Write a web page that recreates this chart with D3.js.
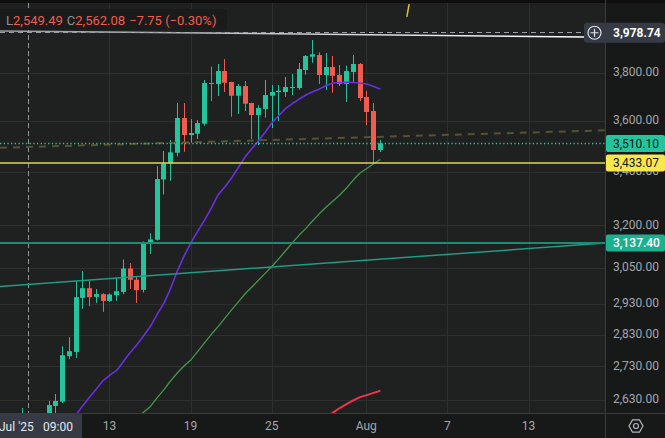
<!DOCTYPE html>
<html>
<head>
<meta charset="utf-8">
<script src="https://cdn.jsdelivr.net/npm/d3@7"></script>
<style>
html, body { margin: 0; padding: 0; background: #1f2020; overflow: hidden; }
svg { display: block; font-family: Roboto, "Noto Sans", sans-serif; }
</style>
</head>
<body>
<div id="chart"></div>
<script>
// 12h candles, first bar 2025-07-06 21:00
const firstBar = '2025-07-06T21:00:00Z';
const opens = [2560, 2569.83, 2562, 2576, 2583, 2611, 2623.6, 2761.6, 2775, 2949.3, 2981.7, 2952.6, 2961.6, 2939.3, 2958.3, 2969, 3048.6, 3010.4, 2976, 3134.7, 3148.8, 3370.2, 3431.5, 3473.5, 3612.1, 3543.6, 3548.8, 3588.9, 3757.4, 3753.2, 3808.6, 3761.7, 3704, 3744.7, 3673.7, 3624.3, 3648.9, 3704, 3719.5, 3719.5, 3736.3, 3736.3, 3812.9, 3870.5, 3877.9, 3791.4, 3825.8, 3791.4, 3753.2, 3804.3, 3838.8, 3698.5, 3640.7, 3484.1];
const highs = [2605, 2588, 2584, 2589, 2626, 2646.5, 2792.9, 2821.3, 3005.3, 3039.9, 3008.2, 2978.8, 2964.9, 2964, 3017.8, 3079.7, 3066.9, 3021.2, 3142.9, 3172.5, 3421.9, 3480.2, 3523.6, 3673.7, 3673.7, 3608, 3603.9, 3770.1, 3827.1, 3838.8, 3860.4, 3763, 3753.2, 3765.9, 3675, 3664.2, 3770.1, 3748.9, 3748.9, 3782.9, 3795.7, 3843.1, 3877.9, 3944, 3889.7, 3886.7, 3873.5, 3834.4, 3832, 3877.9, 3843.1, 3723.7, 3673.7, 3523.6];
const lows = [2548, 2549.49, 2540, 2556, 2578, 2586, 2620, 2752.3, 2756.3, 2913, 2921.9, 2932.7, 2903.1, 2936, 2939.3, 2961.6, 2979.3, 2932.7, 2967.3, 3099.2, 3146, 3313.7, 3365.7, 3459, 3477.4, 3512.9, 3527.6, 3580.9, 3681.9, 3702.7, 3719.5, 3617.3, 3628.4, 3640.7, 3527.6, 3503.8, 3613.3, 3571.6, 3599.9, 3699.8, 3706.9, 3729.1, 3792.7, 3844.4, 3753.2, 3727.9, 3716.5, 3744.7, 3678, 3758.7, 3681.9, 3583.7, 3433.07, 3476.3];
const closes = [2569.83, 2562.08, 2576, 2583, 2613.5, 2625.7, 2764.7, 2777.2, 2951.6, 2981.7, 2951.6, 2961.6, 2939.3, 2960.6, 2971.6, 3048.6, 3010.2, 2974.9, 3137.4, 3150.3, 3372.1, 3432.3, 3475.1, 3612.1, 3543.6, 3551.6, 3591.8, 3757.4, 3753.2, 3808.6, 3758.7, 3704, 3744.7, 3670.8, 3624.3, 3653, 3706.9, 3719.5, 3725, 3740.5, 3740.5, 3817.2, 3873.5, 3881, 3791.4, 3825.8, 3788.4, 3753.2, 3808.6, 3838.8, 3694.4, 3636.6, 3484.1, 3510.1];

// moving averages, each starts at a bar index
const purpleMAStart = 7;
const purpleMA = [2558, 2585.7, 2612.0, 2637.2, 2661.7, 2686.8, 2703.5, 2717.8, 2744.9, 2772.9, 2797.4, 2826.3, 2856.3, 2895.9, 2932.1, 2982.1, 3041.5, 3093.4, 3139.1, 3180.0, 3219.6, 3263.5, 3312.4, 3341.7, 3375.8, 3416.0, 3456.7, 3489.9, 3521.5, 3555.4, 3593.7, 3622.2, 3651.7, 3671.6, 3690.2, 3706.9, 3720.3, 3732.1, 3746.8, 3757.4, 3759.5, 3760.4, 3759.5, 3757.4, 3753.2, 3742.6, 3732.1];
const greenMAStart = 17;
const greenMA = [2575.5, 2593.0, 2609.7, 2635.7, 2659.6, 2686.8, 2710.5, 2732.0, 2750.8, 2776.7, 2803.4, 2830.7, 2855.4, 2882.6, 2909.7, 2936.0, 2963.0, 2985.5, 3009.1, 3032.9, 3057.0, 3082.9, 3110.1, 3138.7, 3165.7, 3189.7, 3217.1, 3243.3, 3267.2, 3289.4, 3311.7, 3338.0, 3368.2, 3394.8, 3412.1, 3430.6, 3446.9];
const redMAStart = 45;
const redMA = [2578.5, 2591.6, 2605.0, 2616.5, 2627.4, 2637.2, 2643.2, 2649.8, 2656.0];

// drawings: two anchors [time, price]
const trendOlive = [['2025-07-06T21:00:00Z', 3495.4], ['2025-08-13T09:00:00Z', 3553.5]];
const trendTeal = [['2025-07-06T21:00:00Z', 2992.9], ['2025-08-13T09:00:00Z', 3117.8]];
const trendWhite = [['2025-07-06T21:00:00Z', 3983.4], ['2025-08-13T09:00:00Z', 3960.1]];
const trendYellow = [['2025-08-04T09:00:00Z', 4048], ['2025-08-04T13:00:00Z', 4107]];

const lastPrice = 3510.10;
const lowLevel = 3433.07;
const supportLevel = 3137.40;
const crossPrice = 3978.74;
const crossTime = '2025-07-07T09:00:00Z';

const yTicks = [2630, 2730, 2830, 2930, 3050, 3200, 3400, 3600, 3800];
const xTickDates = ['2025-07-13T09:00:00Z', '2025-07-19T09:00:00Z', '2025-07-25T09:00:00Z', '2025-08-01T09:00:00Z', '2025-08-07T09:00:00Z', '2025-08-13T09:00:00Z'];
const xTickLabels = ['13', '19', '25', 'Aug', '7', '13'];

const W = 665, H = 438;
const plot = {left: 0, right: 605, top: 3, bottom: 413};
const upColor = '#26c49c', downColor = '#f25c4e';
const fmt = d3.format(',.2f');

const svg = d3.select('#chart').append('svg')
    .attr('width', W)
    .attr('height', H);

const x = d3.scaleUtc()
    .domain([new Date('2025-07-13T09:00:00Z'), new Date('2025-08-01T09:00:00Z')])
    .range([109.4, 366.3]);
const y = d3.scaleLog()
    .domain([2590.4, 4112.1])
    .range([plot.bottom, plot.top]);

const t0 = new Date(firstBar);
const bars = opens.map((o, i) => ({
    t: d3.utcHour.offset(t0, 12 * i), o: o, h: highs[i], l: lows[i], c: closes[i]
}));

// backgrounds
svg.append('rect').attr('width', W).attr('height', H).attr('fill', '#171818');
svg.append('rect').attr('x', plot.left).attr('y', plot.top)
    .attr('width', plot.right - plot.left).attr('height', plot.bottom - plot.top)
    .attr('fill', '#1f2020');
svg.append('rect').attr('width', W).attr('height', plot.top).attr('fill', '#0e0e0e');

svg.append('defs').append('clipPath').attr('id', 'plotclip')
    .append('rect').attr('x', plot.left).attr('y', plot.top)
    .attr('width', plot.right - plot.left).attr('height', plot.bottom - plot.top);

const grad = svg.select('defs').append('linearGradient').attr('id', 'whitegrad')
    .attr('x1', '0%').attr('x2', '100%');
grad.append('stop').attr('offset', '0%').attr('stop-color', '#9a9a9a');
grad.append('stop').attr('offset', '100%').attr('stop-color', '#ffffff');

const g = svg.append('g').attr('clip-path', 'url(#plotclip)');

// grid
g.selectAll('line.hgrid').data(yTicks).enter().append('line')
    .attr('x1', plot.left).attr('x2', plot.right)
    .attr('y1', d => Math.round(y(d)) + 0.5).attr('y2', d => Math.round(y(d)) + 0.5)
    .attr('stroke', '#2d2e2e');
g.selectAll('line.vgrid').data(xTickDates).enter().append('line')
    .attr('x1', d => Math.round(x(new Date(d))) + 0.5).attr('x2', d => Math.round(x(new Date(d))) + 0.5)
    .attr('y1', plot.top).attr('y2', plot.bottom)
    .attr('stroke', '#2d2e2e');

// crosshair vertical
const cx = Math.round(x(new Date(crossTime))) + 0.5;
g.append('line').attr('x1', cx).attr('x2', cx).attr('y1', plot.top).attr('y2', plot.bottom)
    .attr('stroke', '#8f9297').attr('stroke-dasharray', '5,3');

// candles
const candle = g.selectAll('g.candle').data(bars).enter().append('g').attr('class', 'candle');
candle.append('rect')
    .attr('x', d => Math.round(x(d.t)))
    .attr('width', 1)
    .attr('y', d => y(d.h))
    .attr('height', d => Math.max(1, y(d.l) - y(d.h)))
    .attr('fill', d => d.c >= d.o ? upColor : downColor);
candle.append('rect')
    .attr('x', d => Math.round(x(d.t)) - 2)
    .attr('width', 5)
    .attr('y', d => y(Math.max(d.o, d.c)))
    .attr('height', d => Math.max(1, Math.abs(y(d.o) - y(d.c))))
    .attr('fill', d => d.c >= d.o ? upColor : downColor);

// moving averages
function maLine(values, start, color, width) {
    const pts = values.map((v, i) => [x(bars[start + i].t) + 0.5, y(v)]);
    g.append('path')
        .attr('d', d3.line()(pts))
        .attr('fill', 'none')
        .attr('stroke', color)
        .attr('stroke-width', width)
        .attr('stroke-linejoin', 'round');
}
maLine(purpleMA, purpleMAStart, '#6a2fe0', 1.6);
maLine(greenMA, greenMAStart, '#45964a', 1.3);
maLine(redMA, redMAStart, '#f0344a', 2);

// drawings, extended across the given x range
function trend(anchors, xa, xb, color, width, dash, extend) {
    const p1 = [x(new Date(anchors[0][0])), y(anchors[0][1])];
    const p2 = [x(new Date(anchors[1][0])), y(anchors[1][1])];
    const k = (p2[1] - p1[1]) / (p2[0] - p1[0]);
    const ends = extend ? [[xa, p1[1] + k * (xa - p1[0])], [xb, p1[1] + k * (xb - p1[0])]] : [p1, p2];
    g.append('line')
        .attr('x1', ends[0][0]).attr('y1', ends[0][1])
        .attr('x2', ends[1][0]).attr('y2', ends[1][1])
        .attr('stroke', color).attr('stroke-width', width)
        .attr('stroke-dasharray', dash);
}
trend(trendOlive, 0, plot.right, '#575231', 2, '7,6', true);
trend(trendTeal, 0, plot.right, '#1f9c86', 1.5, null, true);
trend(trendWhite, 0, 584, 'url(#whitegrad)', 1.5, null, true);
trend(trendYellow, 0, 0, '#d8c23a', 1.5, null, false);

// horizontal levels
g.append('line').attr('x1', 0).attr('x2', plot.right)
    .attr('y1', y(supportLevel)).attr('y2', y(supportLevel))
    .attr('stroke', '#1c8b73').attr('stroke-width', 2);
g.append('line').attr('x1', 0).attr('x2', plot.right)
    .attr('y1', y(lowLevel)).attr('y2', y(lowLevel))
    .attr('stroke', '#e3d44c').attr('stroke-width', 1.5);
g.append('line').attr('x1', 0).attr('x2', plot.right)
    .attr('y1', Math.round(y(lastPrice)) + 0.5).attr('y2', Math.round(y(lastPrice)) + 0.5)
    .attr('stroke', upColor).attr('stroke-width', 1.3).attr('stroke-dasharray', '1.3,2.4');
g.append('line').attr('x1', 0).attr('x2', 584)
    .attr('y1', Math.round(y(crossPrice)) + 0.5).attr('y2', Math.round(y(crossPrice)) + 0.5)
    .attr('stroke', '#9a9da3').attr('stroke-dasharray', '5,4');

// axes borders
svg.append('line').attr('x1', plot.right + 0.5).attr('x2', plot.right + 0.5)
    .attr('y1', 0).attr('y2', H).attr('stroke', '#3a3b3c');
svg.append('line').attr('x1', 0).attr('x2', W)
    .attr('y1', plot.bottom + 0.5).attr('y2', plot.bottom + 0.5).attr('stroke', '#3a3b3c');

// y tick labels
svg.selectAll('text.ytick').data(yTicks).enter().append('text')
    .attr('x', 613)
    .attr('y', d => y(d) - 1)
    .attr('dy', '0.35em')
    .attr('fill', '#a4a7ad')
    .attr('font-size', 12)
    .text(d => fmt(d));

// x tick labels
svg.selectAll('text.xtick').data(xTickDates).enter().append('text')
    .attr('x', d => x(new Date(d)))
    .attr('y', 426)
    .attr('dy', '0.35em')
    .attr('text-anchor', 'middle')
    .attr('fill', '#a4a7ad')
    .attr('font-size', 12)
    .text((d, i) => xTickLabels[i]);

// price labels on the right axis
function priceTag(price, bg, fg, x0) {
    const yc = y(price);
    svg.append('rect').attr('x', x0).attr('y', yc - 8.5).attr('width', W - x0).attr('height', 17)
        .attr('rx', 2).attr('fill', bg);
    svg.append('text').attr('x', 613).attr('y', yc).attr('dy', '0.35em')
        .attr('fill', fg).attr('font-size', 12)
        .attr('font-weight', fg === '#ffffff' ? 500 : 400)
        .text(fmt(price));
}
priceTag(lastPrice, '#26c49c', '#131722', 606);
priceTag(lowLevel, '#f8e84c', '#131722', 606);
priceTag(supportLevel, '#1cb08f', '#ffffff', 606);

// crosshair price tag with plus icon
const yc = y(crossPrice);
svg.append('rect').attr('x', 584).attr('y', yc - 9.5).attr('width', W - 584).attr('height', 20)
    .attr('rx', 3).attr('fill', '#363a45');
svg.append('circle').attr('cx', 594.5).attr('cy', yc + 0.5).attr('r', 6.5)
    .attr('fill', 'none').attr('stroke', '#e0e3eb').attr('stroke-width', 1.2);
svg.append('path').attr('d', `M590.5,${yc + 0.5}h8M594.5,${yc - 3.5}v8`)
    .attr('stroke', '#e0e3eb').attr('stroke-width', 1.2);
svg.append('text').attr('x', 613).attr('y', yc + 0.5).attr('dy', '0.35em')
    .attr('fill', '#ffffff').attr('font-size', 12).attr('font-weight', 700)
    .text(fmt(crossPrice));

// crosshair time tag
svg.append('rect').attr('x', 0).attr('y', 414).attr('width', 82).attr('height', 24)
    .attr('fill', '#363a45');
const tt = svg.append('text').attr('y', 427).attr('dy', '0.35em')
    .attr('fill', '#e6e8ee').attr('font-size', 12);
tt.append('tspan').attr('x', -1).text("Jul '25");
tt.append('tspan').attr('x', 43).text('09:00');

// settings icon bottom right
const hex = d3.range(6).map(i => {
    const a = Math.PI / 3 * i;
    return [636 + 7 * Math.cos(a), 426 + 7 * Math.sin(a)];
});
svg.append('path').attr('d', d3.line()(hex) + 'Z')
    .attr('fill', 'none').attr('stroke', '#b2b5be').attr('stroke-width', 1.2);
svg.append('circle').attr('cx', 636).attr('cy', 426).attr('r', 2.5)
    .attr('fill', 'none').attr('stroke', '#b2b5be').attr('stroke-width', 1.2);

// legend for the hovered bar
const hi = bars.findIndex(b => +b.t === +new Date(crossTime));
const hb = bars[hi];
const chg = hb.c - bars[hi - 1].c;
const pct = chg / bars[hi - 1].c * 100;
const minus = v => (v < 0 ? '\u2212' : '+') + Math.abs(v).toFixed(2);
svg.append('rect').attr('x', 0).attr('y', 9).attr('width', 227).attr('height', 21)
    .attr('fill', '#1a1b1b');
const leg = svg.append('text').attr('x', 6).attr('y', 20).attr('dy', '0.35em')
    .attr('font-size', 13);
leg.append('tspan').attr('fill', '#8e9197').text('L');
leg.append('tspan').attr('fill', downColor).text(fmt(hb.l));
leg.append('tspan').attr('fill', '#8e9197').attr('dx', 4).text('C');
leg.append('tspan').attr('fill', downColor).text(fmt(hb.c));
leg.append('tspan').attr('fill', downColor).attr('dx', 4)
    .text(minus(chg) + ' (' + minus(pct) + '%)');
</script>
</body>
</html>
